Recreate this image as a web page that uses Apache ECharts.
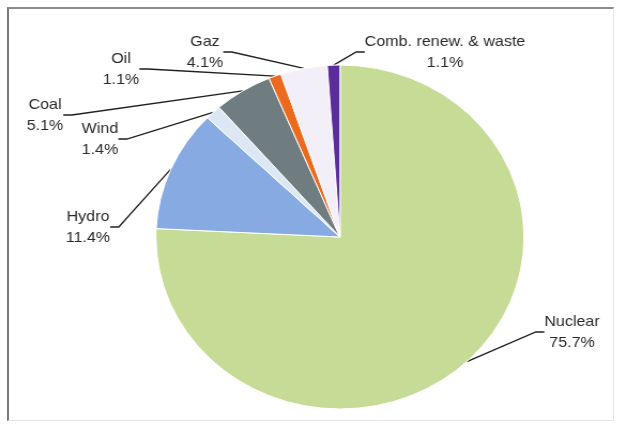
<!DOCTYPE html>
<html>
<head>
<meta charset="utf-8">
<script src="https://cdn.jsdelivr.net/npm/echarts@6/dist/echarts.min.js"></script>
<style>
  html, body { margin: 0; padding: 0; background: #fff; }
  #wrap { position: relative; width: 618px; height: 425px; overflow: hidden; background: #fff; }
  #chart { position: absolute; left: 0; top: 0; width: 578px; height: 425px;
           transform: scaleX(1.07); transform-origin: 0 0; }
  #frame { position: absolute; left: 7px; top: 7px; width: 604px; height: 411px;
           border-top: 2px solid #8c8c8c; border-left: 2px solid #7a7a7a;
           border-right: 1px solid #e6e6e6; border-bottom: 1px solid #e6e6e6; pointer-events: none; }
</style>
</head>
<body>
<div id="wrap">
  <div id="chart"></div>
  <div id="frame"></div>
</div>
<script>
// Electricity generation by source, share of total (%)
const categories = ['Nuclear', 'Hydro', 'Wind', 'Coal', 'Oil', 'Gaz', 'Comb. renew. & waste'];
const shares = [75.7, 11.4, 1.4, 5.1, 1.1, 4.1, 1.1];
const sliceColors = ['#c6dc96', '#88aae2', '#dce7f6', '#6f7c80', '#ec6a1e', '#f3eff8', '#5b2d9c'];

// horizontal stretch applied to the drawing surface
const SX = 1.07;
// label block centres in page pixels, one per category
const labelSpots = [[572, 332], [88, 227], [100, 139], [45, 115], [121, 69], [205, 52], [445, 52]];

const chart = echarts.init(document.getElementById('chart'), null, { renderer: 'canvas' });

chart.setOption({
  backgroundColor: 'transparent',
  animation: false,
  series: [{
    type: 'pie',
    center: [340 / SX, 237],
    radius: 172,
    startAngle: 90,
    clockwise: true,
    avoidLabelOverlap: false,
    data: categories.map((name, i) => ({
      name: name,
      value: shares[i],
      itemStyle: { color: sliceColors[i] }
    })),
    itemStyle: { borderColor: '#ffffff', borderWidth: 1 },
    label: {
      show: true,
      formatter: p => p.name + '\n' + p.value.toFixed(1) + '%',
      fontFamily: 'Liberation Sans, Arial, sans-serif',
      fontSize: 15,
      lineHeight: 21,
      color: '#2a2a2a',
      align: 'center'
    },
    labelLine: {
      show: true,
      length: 8,
      length2: 8,
      smooth: false,
      lineStyle: { color: '#1e1e1e', width: 1.3 }
    },
    labelLayout: function (params) {
      const spot = labelSpots[params.dataIndex];
      return {
        x: spot[0] / SX,
        y: spot[1],
        align: 'center',
        verticalAlign: 'middle'
      };
    },
    emphasis: { disabled: true }
  }]
});
</script>
</body>
</html>
